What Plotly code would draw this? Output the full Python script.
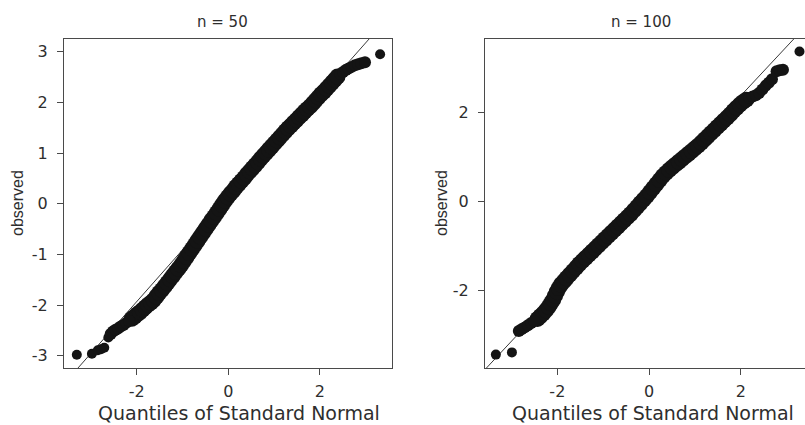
import plotly.graph_objects as go

# ---------------- data ----------------
# left panel, n = 50
left_out_x = [-3.31, -2.98, -2.85, -2.78, -2.71, -2.62, 3.32]
left_out_y = [-2.98, -2.96, -2.89, -2.87, -2.84, -2.64, 2.95]

left_taper_x = [-2.57, -2.52, -2.47, -2.41, -2.35, -2.29, -2.23, -2.17,
                2.45, 2.51, 2.57, 2.63, 2.70, 2.77, 2.84, 2.91, 2.99]
left_taper_y = [-2.57, -2.52, -2.49, -2.46, -2.42, -2.39, -2.35, -2.31,
                2.56, 2.60, 2.64, 2.67, 2.70, 2.73, 2.75, 2.77, 2.79]

left_band_x = [-2.11, -2.05, -1.99, -1.93, -1.87, -1.81, -1.75, -1.69, -1.63,
               -1.57, -1.51, -1.45, -1.39, -1.33, -1.27, -1.21, -1.15, -1.09,
               -1.03, -0.97, -0.91, -0.85, -0.79, -0.73, -0.67, -0.61, -0.55,
               -0.49, -0.43, -0.37, -0.31, -0.25, -0.19, -0.13, -0.07, -0.01,
               0.05, 0.11, 0.17, 0.23, 0.29, 0.35, 0.41, 0.47, 0.53, 0.59,
               0.65, 0.71, 0.77, 0.83, 0.89, 0.95, 1.01, 1.07, 1.13, 1.19,
               1.25, 1.31, 1.37, 1.43, 1.49, 1.55, 1.61, 1.67, 1.73, 1.79,
               1.85, 1.91, 1.97, 2.03, 2.09, 2.15, 2.21, 2.27, 2.33, 2.39]
left_band_y = [-2.27, -2.23, -2.18, -2.14, -2.09, -2.04, -1.99, -1.95, -1.90,
               -1.83, -1.76, -1.70, -1.63, -1.56, -1.49, -1.42, -1.35, -1.28,
               -1.21, -1.13, -1.05, -0.97, -0.89, -0.81, -0.73, -0.65, -0.57,
               -0.49, -0.41, -0.33, -0.26, -0.18, -0.10, -0.02, 0.06, 0.13,
               0.20, 0.26, 0.33, 0.39, 0.45, 0.51, 0.58, 0.64, 0.70, 0.76,
               0.82, 0.89, 0.95, 1.01, 1.07, 1.13, 1.19, 1.25, 1.31, 1.37,
               1.43, 1.49, 1.54, 1.60, 1.65, 1.71, 1.76, 1.82, 1.87, 1.92,
               1.98, 2.04, 2.10, 2.16, 2.21, 2.27, 2.33, 2.39, 2.45, 2.51]

# right panel, n = 100
right_out_x = [-3.34, -2.99, 3.28]
right_out_y = [-3.43, -3.38, 3.36]

right_taper_x = [-2.84, -2.78, -2.71, -2.64, -2.57, -2.50,
                 2.19, 2.26, 2.33, 2.40, 2.47, 2.54, 2.61, 2.68, 2.78, 2.85, 2.92]
right_taper_y = [-2.90, -2.86, -2.82, -2.77, -2.72, -2.68,
                 2.32, 2.35, 2.38, 2.43, 2.51, 2.59, 2.66, 2.74, 2.92, 2.94, 2.95]

right_band_x = [-2.43, -2.37, -2.31, -2.25, -2.19, -2.14, -2.09, -2.05, -2.01,
                -1.97, -1.92, -1.86, -1.80, -1.73, -1.66, -1.59, -1.52, -1.45,
                -1.38, -1.31, -1.24, -1.17, -1.10, -1.03, -0.96, -0.89, -0.82,
                -0.75, -0.68, -0.61, -0.54, -0.47, -0.40, -0.33, -0.26, -0.19,
                -0.12, -0.05, 0.02, 0.09, 0.16, 0.23, 0.30, 0.37, 0.44, 0.51,
                0.58, 0.65, 0.72, 0.79, 0.86, 0.93, 1.00, 1.07, 1.14, 1.21,
                1.28, 1.35, 1.42, 1.49, 1.56, 1.63, 1.70, 1.77, 1.84, 1.91,
                1.98, 2.05, 2.12]
right_band_y = [-2.63, -2.57, -2.51, -2.44, -2.36, -2.28, -2.20, -2.11, -2.02,
                -1.94, -1.86, -1.79, -1.72, -1.64, -1.56, -1.48, -1.40, -1.33,
                -1.26, -1.19, -1.12, -1.05, -0.98, -0.91, -0.84, -0.77, -0.70,
                -0.63, -0.56, -0.49, -0.42, -0.35, -0.28, -0.20, -0.12, -0.04,
                0.04, 0.12, 0.21, 0.30, 0.39, 0.48, 0.57, 0.64, 0.71, 0.77,
                0.83, 0.89, 0.95, 1.01, 1.07, 1.13, 1.19, 1.25, 1.32, 1.39,
                1.46, 1.53, 1.60, 1.67, 1.74, 1.81, 1.88, 1.95, 2.03, 2.10,
                2.17, 2.23, 2.28]

# reference lines (intercept, slope)
left_line = (0.11, 1.02)
right_line = (0.17, 1.10)

panel_titles = ["n = 50", "n = 100"]
x_title = "Quantiles of Standard Normal"
y_title = "observed"
left_yticks = [-3, -2, -1, 0, 1, 2, 3]
left_yticklabels = ["-3", "-2", "-1", "0", "1", "2", "3"]
right_yticks = [-2, 0, 2]
right_yticklabels = ["-2", "0", "2"]
xticks = [-2, 0, 2]
xticklabels = ["-2", "0", "2"]

# ---------------- figure ----------------
W, H = 805, 425
ML, MR, MT, MB = 0, 0, 39, 57
left_xrange = [-3.59, 3.58]
left_yrange = [-3.24, 3.25]
right_xrange = [-3.577, 3.40]
right_yrange = [-3.73, 3.64]

DOT = "#141414"
LINE = "#3a3a3a"
AX = "#4a4a4a"
TXT = "#2e2e2e"

fig = go.Figure()


def add_panel(xa, ya, band, taper, out, line, xr):
    b0, b1 = line
    fig.add_trace(go.Scatter(
        x=[xr[0], xr[1]], y=[b0 + b1 * xr[0], b0 + b1 * xr[1]],
        mode="lines", line=dict(color=LINE, width=1),
        xaxis=xa, yaxis=ya, showlegend=False, hoverinfo="skip"))
    for (xs, ys), size in ((band, 16), (taper, 12), (out, 10)):
        fig.add_trace(go.Scatter(
            x=xs, y=ys, mode="markers",
            marker=dict(color=DOT, size=size, line=dict(width=0)),
            xaxis=xa, yaxis=ya, showlegend=False))


add_panel("x", "y", (left_band_x, left_band_y), (left_taper_x, left_taper_y),
          (left_out_x, left_out_y), left_line, left_xrange)
add_panel("x2", "y2", (right_band_x, right_band_y), (right_taper_x, right_taper_y),
          (right_out_x, right_out_y), right_line, right_xrange)

tickfont = dict(family="DejaVu Sans", size=16, color=TXT)
common = dict(showgrid=False, zeroline=False, showline=True, linecolor=AX,
              linewidth=1, ticks="outside", ticklen=6, tickcolor=AX,
              tickwidth=1, tickfont=tickfont)

fig.update_layout(
    width=W, height=H, autosize=False,
    margin=dict(l=ML, r=MR, t=MT, b=MB, pad=0),
    paper_bgcolor="white", plot_bgcolor="white",
    hovermode=False,
    xaxis=dict(domain=[64 / W, 392 / W], range=left_xrange, anchor="y",
               tickvals=xticks, ticktext=xticklabels, mirror=True,
               ticklabelstandoff=3, **common),
    yaxis=dict(domain=[0, 1], range=left_yrange, anchor="x",
               tickvals=left_yticks, ticktext=left_yticklabels, mirror=True,
               ticklabelstandoff=6, **common),
    xaxis2=dict(domain=[485 / W, 1], range=right_xrange, anchor="y2",
                tickvals=xticks, ticktext=xticklabels, mirror=True,
                ticklabelstandoff=3, **common),
    yaxis2=dict(domain=[0, 1], range=right_yrange, anchor="x2",
                tickvals=right_yticks, ticktext=right_yticklabels, mirror=False,
                ticklabelstandoff=6, **common),
)

PH = H - MT - MB


def py(pix):
    return (H - MB - pix) / PH


ann = []
for txt, cx in zip(panel_titles, [222, 641]):
    ann.append(dict(text=txt, x=cx / W, y=py(22), xref="paper", yref="paper",
                    showarrow=False, xanchor="center", yanchor="middle",
                    font=dict(family="DejaVu Sans", size=15, color=TXT)))
for cx in [239, 653]:
    ann.append(dict(text=x_title, x=cx / W, y=py(413), xref="paper", yref="paper",
                    showarrow=False, xanchor="center", yanchor="middle",
                    font=dict(family="DejaVu Sans", size=19, color=TXT)))
for cx in [17, 441]:
    ann.append(dict(text=y_title, x=cx / W, y=py(203), xref="paper", yref="paper",
                    showarrow=False, xanchor="center", yanchor="middle",
                    textangle=-90,
                    font=dict(family="Liberation Sans", size=16, color=TXT)))
fig.update_layout(annotations=ann)

fig.write_html("out.html",
               config={"displayModeBar": False, "staticPlot": True},
               post_script="document.body.style.margin='0px';"
                           "document.body.style.overflow='hidden';")
